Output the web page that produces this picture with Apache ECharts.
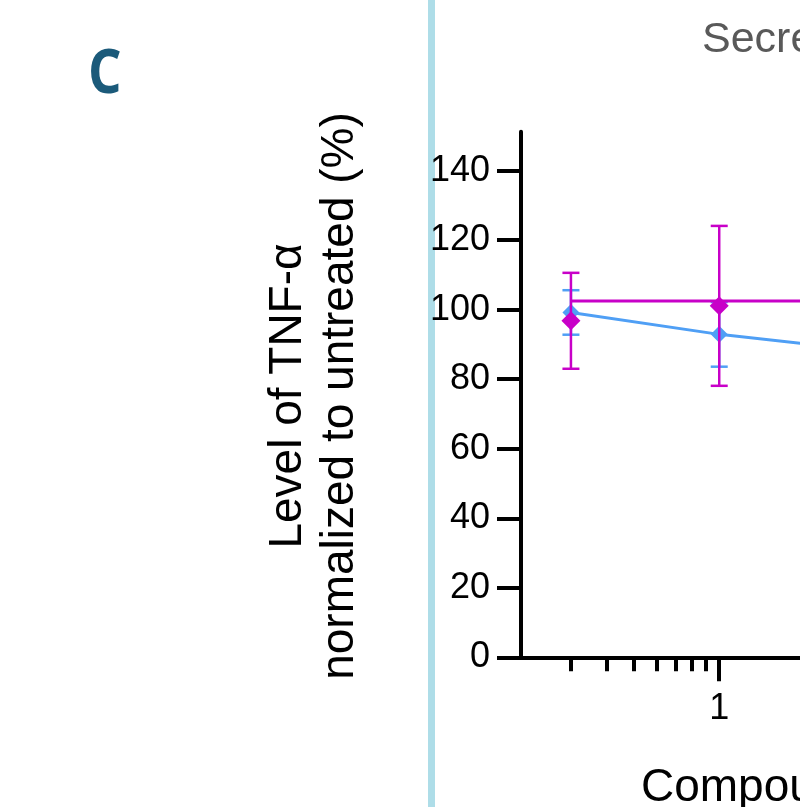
<!DOCTYPE html>
<html><head><meta charset="utf-8">
<script src="https://cdn.jsdelivr.net/npm/echarts@6/dist/echarts.min.js"></script>
<style>html,body{margin:0;padding:0;background:#fff}#c{width:800px;height:807px}</style>
</head><body><div id="c"></div>
<script>
// ---- data ----
const blueDoses = [0.3, 1, 3];
const blueMean = [99.2, 92.9, 88.6];
const blueErr = [6.4, 9.3, null];
const magentaDoses = [0.3, 1];
const magentaMean = [96.8, 101.1];
const magentaErr = [13.8, 23.0];
const magentaFitValue = 102.5;
const magentaFitRange = [0.3, 100];
const yTickValues = [0, 20, 40, 60, 80, 100, 120, 140];
const xMajorTicks = [1, 10, 100];
const xMinorTicks = [0.3, 0.4, 0.5, 0.6, 0.7, 0.8, 0.9, 2, 3, 4, 5, 6, 7, 8, 9, 20, 30, 40, 50, 60, 70, 80, 90];
const panelLetter = 'C';
const chartTitle = 'Secreted TNF-α';
const yTitleLines = ['Level of TNF-α', 'normalized to untreated (%)'];
const xTitle = 'Compound concentration (µM)';

// ---- styles ----
const FONT = "'Liberation Sans', Arial, sans-serif";
const MAGENTA = '#c800c8';
const BLUE = '#4f9ff5';

function errSeries(xs, means, errs, color, z) {
  const data = [];
  xs.forEach((x, i) => { if (errs[i] != null) data.push([x, means[i] - errs[i], means[i] + errs[i]]); });
  return {
    type: 'custom', data, z, xAxisIndex: 0, yAxisIndex: 0,
    encode: { x: 0, y: [1, 2] }, silent: true,
    renderItem(params, api) {
      const x = api.value(0), lo = api.value(1), hi = api.value(2);
      const p1 = api.coord([x, lo]), p2 = api.coord([x, hi]);
      const hw = 8.5, st = { stroke: color, lineWidth: 2.5 };
      return { type: 'group', children: [
        { type: 'line', shape: { x1: p1[0], y1: p1[1], x2: p2[0], y2: p2[1] }, style: st },
        { type: 'line', shape: { x1: p1[0] - hw, y1: p1[1], x2: p1[0] + hw, y2: p1[1] }, style: st },
        { type: 'line', shape: { x1: p2[0] - hw, y1: p2[1], x2: p2[0] + hw, y2: p2[1] }, style: st }
      ] };
    }
  };
}

const chart = echarts.init(document.getElementById('c'), null, { renderer: 'canvas' });
const axisLineStyle = { color: '#000', width: 4 };
chart.setOption({
  animation: false,
  backgroundColor: '#fff',
  grid: { left: 521, top: 131.7, width: 765.4, bottom: 149.7, containLabel: false, outerBoundsMode: 'none' },
  xAxis: [
    {
      type: 'log', logBase: 10, min: 0.2, max: 100, position: 'bottom',
      axisLine: { show: true, onZero: false, lineStyle: axisLineStyle },
      axisTick: { show: true, length: 24, lineStyle: { color: '#000', width: 4 }, customValues: xMajorTicks },
      axisLabel: { show: true, customValues: xMajorTicks, margin: 34, color: '#000', fontSize: 36, fontFamily: FONT,
        formatter: v => String(v) },
      splitLine: { show: false }, minorTick: { show: false }
    },
    {
      type: 'log', logBase: 10, min: 0.2, max: 100, position: 'bottom', gridIndex: 0,
      axisLine: { show: false, onZero: false },
      axisTick: { show: true, length: 14, lineStyle: { color: '#000', width: 4 }, customValues: xMinorTicks },
      axisLabel: { show: false },
      splitLine: { show: false }
    }
  ],
  yAxis: {
    type: 'value', min: 0, max: 151.2,
    axisLine: { show: true, onZero: false, lineStyle: axisLineStyle },
    axisTick: { show: true, length: 24, lineStyle: { color: '#000', width: 4 }, customValues: yTickValues },
    axisLabel: { show: true, customValues: yTickValues, margin: 31, color: '#000', fontSize: 36, fontFamily: FONT },
    splitLine: { show: false }
  },
  series: [
    errSeries(blueDoses, blueMean, blueErr, BLUE, 2),
    {
      type: 'line', z: 3, data: blueDoses.map((x, i) => [x, blueMean[i]]),
      symbol: 'diamond', symbolSize: [17, 17], showAllSymbol: true,
      lineStyle: { color: BLUE, width: 3 }, itemStyle: { color: BLUE }
    },
    errSeries(magentaDoses, magentaMean, magentaErr, MAGENTA, 4),
    {
      type: 'scatter', z: 5, data: magentaDoses.map((x, i) => [x, magentaMean[i]]),
      symbol: 'diamond', symbolSize: [19, 19], itemStyle: { color: MAGENTA, opacity: 1 }
    },
    {
      type: 'line', z: 5, data: magentaFitRange.map(x => [x, magentaFitValue]),
      symbol: 'none', lineStyle: { color: MAGENTA, width: 3 }
    }
  ],
  graphic: [
    { type: 'rect', shape: { x: 428, y: 0, width: 7, height: 807 }, style: { fill: '#aedde8' }, z: 0 },
    { type: 'text', x: 88, y: 76, scaleX: 0.88, style: { text: panelLetter, font: "bold 60px 'Open Sans', 'Noto Sans', sans-serif",
        fill: '#1b5a7a', textAlign: 'left', textVerticalAlign: 'middle' } },
    { type: 'text', x: 702, y: 40, style: { text: chartTitle, font: '43px ' + FONT, fill: '#595959',
        textAlign: 'left', textVerticalAlign: 'middle' } },
    { type: 'text', x: 288.5, y: 396, rotation: Math.PI / 2, style: { text: yTitleLines[0], font: '46px ' + FONT, fill: '#000',
        textAlign: 'center', textVerticalAlign: 'middle' } },
    { type: 'text', x: 340, y: 396, rotation: Math.PI / 2, style: { text: yTitleLines[1], font: '46px ' + FONT, fill: '#000',
        textAlign: 'center', textVerticalAlign: 'middle' } },
    { type: 'text', x: 641, y: 788, style: { text: xTitle, font: '46px ' + FONT, fill: '#000',
        textAlign: 'left', textVerticalAlign: 'middle' } }
  ]
});
</script></body></html>
